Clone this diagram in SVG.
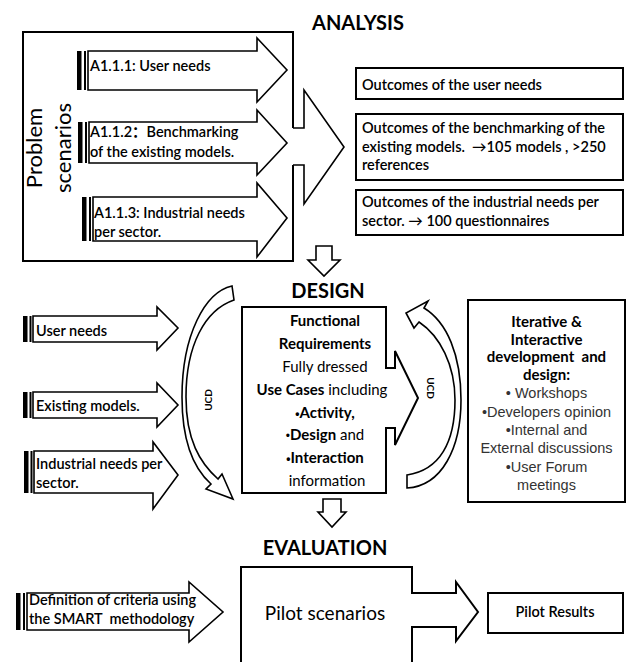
<svg xmlns="http://www.w3.org/2000/svg" width="631" height="662" viewBox="0 0 631 662">
<style>
.c{font-family:Lato,'Liberation Sans','Noto Sans CJK SC',sans-serif;fill:#000}
.b{font-weight:bold}
.s{font-weight:600}
.t{font-size:14.5px}
.h{font-size:20px;font-weight:bold}
.a{font-family:'Liberation Sans',Arial,sans-serif;fill:#333;font-size:14.5px}
.bu{font-family:'Liberation Sans',Arial,sans-serif;font-size:12px}
.box{fill:#fff;stroke:#000;stroke-width:2}
.ar{fill:#fff;stroke:#000;stroke-width:1.6;stroke-linejoin:miter}
.bar{fill:#000}
.nos{fill:#fff;stroke:none}
.ln{fill:none;stroke:#000;stroke-width:1.6}
</style>
<rect width="631" height="662" fill="#fff"/>

<g id="titles">
<text class="c h" x="358" y="30" text-anchor="middle">ANALYSIS</text>
<text class="c h" x="328" y="298" text-anchor="middle">DESIGN</text>
<text class="c h" x="325" y="555" text-anchor="middle" font-size="21">EVALUATION</text>
</g>

<g id="problem-scenarios">
<rect class="box" x="23" y="32" width="270" height="229"/>
<text class="c" font-size="22" transform="translate(42,148) rotate(-90)" text-anchor="middle">Problem</text>
<text class="c" font-size="22" transform="translate(71,148) rotate(-90)" text-anchor="middle">scenarios</text>
</g>

<g id="a111">
<rect class="bar" x="77" y="51" width="4.5" height="39"/>
<rect class="bar" x="84" y="51" width="2" height="39"/>
<polygon class="ar" points="88,51 257,51 257,38 287,70 257,102 257,90 88,90"/>
<text class="c s t" x="90" y="71">A1.1.1: User needs</text>
</g>
<g id="a112">
<rect class="bar" x="78" y="122" width="4.5" height="41"/>
<rect class="bar" x="85" y="122" width="2" height="41"/>
<polygon class="ar" points="89,122 257,122 257,110 287,143 257,175 257,163 89,163"/>
<text class="c s t" x="90" y="137">A1.1.2：Benchmarking</text>
<text class="c s t" x="90" y="157">of the existing models.</text>
</g>
<g id="a113">
<rect class="bar" x="82" y="197" width="4.5" height="44"/>
<rect class="bar" x="89" y="197" width="2" height="44"/>
<polygon class="ar" points="93,197 257,197 257,183 287,218 257,257 257,241 93,241"/>
<text class="c s t" x="94" y="218">A1.1.3: Industrial needs</text>
<text class="c s t" x="94" y="237">per sector.</text>
</g>

<g id="out1">
<rect class="box" x="356" y="68" width="267" height="31"/>
<text class="c s t" x="362" y="90">Outcomes of the user needs</text>
</g>
<g id="out2">
<rect class="box" x="356" y="114" width="267" height="66"/>
<text class="c s t" x="362" y="133">Outcomes of the benchmarking of the</text>
<text class="c s t" x="362" y="152" style="white-space:pre">existing models.  →105 models , &gt;250</text>
<text class="c s t" x="362" y="170">references</text>
</g>
<g id="out3">
<rect class="box" x="356" y="190" width="267" height="45"/>
<text class="c s t" x="362" y="207">Outcomes of the industrial needs per</text>
<text class="c s t" x="362" y="226">sector. → 100 questionnaires</text>
</g>

<g id="in-user-needs">
<rect class="bar" x="23" y="316" width="4.5" height="26"/>
<rect class="bar" x="29.5" y="316" width="2" height="26"/>
<polygon class="ar" points="33,316 157,316 157,307 178,328 157,350 157,342 33,342"/>
<text class="c s t" x="36" y="336">User needs</text>
</g>
<g id="in-existing">
<rect class="bar" x="23" y="392" width="4.5" height="26"/>
<rect class="bar" x="29.5" y="392" width="2" height="26"/>
<polygon class="ar" points="33,392 157,392 157,383 178,405 157,427 157,418 33,418"/>
<text class="c s t" x="36" y="411">Existing models.</text>
</g>
<g id="in-industrial">
<rect class="bar" x="24" y="451" width="4.5" height="42"/>
<rect class="bar" x="30.5" y="451" width="2" height="42"/>
<polygon class="ar" points="34,451 153,451 153,442 178,475 153,509 153,493 34,493"/>
<text class="c s t" x="36" y="469">Industrial needs per</text>
<text class="c s t" x="36" y="488">sector.</text>
</g>

<g id="design">
<path class="box" d="M242,307 L386,307 L386,368 L395,368 L395,351 L418,398 L395,445 L395,428 L386,428 L386,493 L242,493 Z"/>
<g class="c" font-size="15" text-anchor="middle">
<text x="325" y="326" class="b">Functional</text>
<text x="325" y="349" class="b">Requirements</text>
<text x="325" y="372">Fully dressed</text>
<text x="322" y="395"><tspan class="b">Use Cases</tspan> including</text>
<text x="325" y="418" class="b"><tspan class="bu">•</tspan>Activity,</text>
<text x="325" y="440"><tspan class="bu">•</tspan><tspan class="b">Design</tspan> and</text>
<text x="325" y="463" class="b"><tspan class="bu">•</tspan>Interaction</text>
<text x="327" y="486">information</text>
</g>
</g>

<g id="iterative">
<rect class="box" x="468" y="300" width="157" height="202"/>
<g text-anchor="middle">
<text class="c b" font-size="15" x="546.5" y="327">Iterative &amp;</text>
<text class="c b" font-size="15" x="546.5" y="345">Interactive</text>
<text class="c b" font-size="15" x="546.5" y="362" style="white-space:pre">development  and</text>
<text class="c b" font-size="15" x="546.5" y="380">design:</text>
<text class="a" x="546.5" y="398">• Workshops</text>
<text class="a" x="546.5" y="417">•Developers opinion</text>
<text class="a" x="546.5" y="435">•Internal and</text>
<text class="a" x="546.5" y="453">External discussions</text>
<text class="a" x="546.5" y="472">•User Forum</text>
<text class="a" x="546.5" y="490">meetings</text>
</g>
</g>

<g id="criteria">
<rect class="bar" x="16" y="593" width="4.5" height="37"/>
<rect class="bar" x="23" y="593" width="2" height="37"/>
<polygon class="ar" points="27,593 189,593 189,582 223,612 189,642 189,630 27,630"/>
<text class="c s t" x="29" y="605">Definition of criteria using</text>
<text class="c s t" x="29" y="624" style="white-space:pre">the SMART  methodology</text>
</g>

<g id="pilot-scenarios">
<path class="box" d="M241,567 L412,567 L412,593 L456,593 L456,582 L478,612 L456,641 L456,627 L412,627 L412,668 L241,668 Z"/>
<text class="c" font-size="19" x="325" y="620" text-anchor="middle">Pilot scenarios</text>
</g>

<g id="pilot-results">
<rect class="box" x="488" y="593" width="135" height="40"/>
<text class="c s t" x="555" y="617" text-anchor="middle">Pilot Results</text>
</g>

<g id="connectors">
<polygon class="nos" points="291,128 304,128 304,90 344,147 304,204 304,165 291,165"/>
<path class="ln" d="M293,128 L304,128 L304,90 L344,147 L304,204 L304,165 L293,165"/>
<polygon class="ar" points="316,246 332,246 332,260 340,260 324,276 308,260 316,260"/>
<polygon class="ar" points="323,499 341,499 341,512 346,512 332,527 318,512 323,512"/>
<path class="ar" d="M232,286 C205,292 182,335 182,397 C182,440 193,468 211,484 L206,489 L233,499 L222,474 L218,479 C200,463 186,440 186,397 C186,345 205,310 234,300 Z"/>
<path class="ar" d="M407,488 C442,486 461,448 461,400 C461,355 447,322 424,308 L428,301 L406,313 L414,328 L419,322 C440,336 455,365 455,400 C455,442 440,470 407,475 Z"/>
<text class="c b" font-size="10" transform="translate(212,400) rotate(-90)" text-anchor="middle">UCD</text>
<text class="c b" font-size="10" transform="translate(427,388) rotate(90)" text-anchor="middle">UCD</text>
</g>
</svg>
